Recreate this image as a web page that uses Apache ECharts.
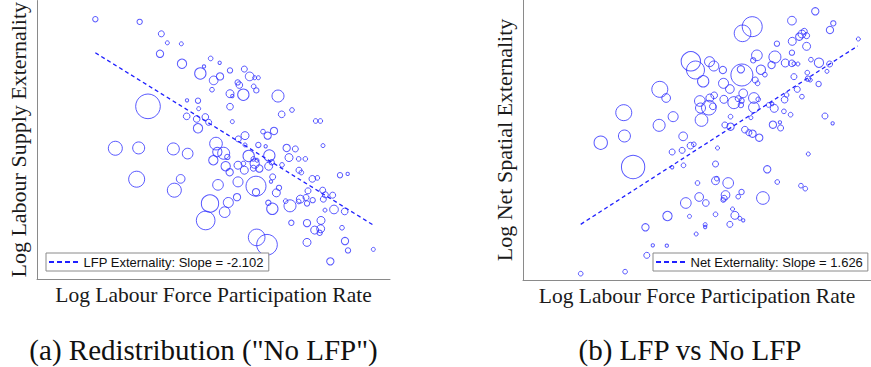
<!DOCTYPE html>
<html>
<head>
<meta charset="utf-8">
<script src="https://cdn.jsdelivr.net/npm/echarts@6/dist/echarts.min.js"></script>
<style>
html,body{margin:0;padding:0;background:#fff;}
#chart{width:871px;height:367px;}
</style>
</head>
<body>
<div id="chart"></div>
<script>
// ---- Data (arbitrary plot units; third value = bubble weight) ----
const leftPoints = [
[17.5,78.1,8],[30.8,77.3,8],[37.3,73.7,9],[39.1,71.0,6],[43.3,70.7,6],[36.9,67.7,11],[43.5,64.7,14],[52.1,66.3,7],
[54.8,65.0,5],[50.1,63.9,5],[49.0,61.8,17],[57.9,62.7,8],[62.2,63.1,9],[63.8,60.9,13],[54.9,60.9,11],[53.0,59.7,13],
[65.3,60.5,6],[66.4,60.5,6],[60.2,59.1,8],[60.7,58.3,10],[65.0,57.9,7],[52.5,56.9,7],[65.8,56.7,8],[57.9,55.7,12],
[61.9,55.4,17],[58.6,55.0,5],[72.3,55.0,18],[33.3,51.9,37],[45.0,53.7,5],[48.3,53.6,8],[57.9,51.8,10],[48.5,51.2,6],
[76.5,50.8,7],[73.4,49.5,10],[44.9,48.9,10],[47.9,48.1,10],[50.5,48.7,10],[51.5,47.1,9],[58.6,47.3,6],[83.6,47.5,7],
[85.0,47.5,7],[48.3,45.3,14],[67.8,44.3,7],[69.2,43.1,11],[71.1,44.5,11],[62.4,43.1,12],[60.4,42.1,9],[62.4,40.3,6],
[23.5,39.3,21],[30.5,39.4,18],[40.9,39.1,18],[45.2,37.7,16],[53.7,40.7,19],[54.1,38.2,14],[56.0,37.8,18],[57.1,36.7,8],
[52.9,35.7,14],[66.4,40.3,8],[68.6,39.9,5],[63.5,37.0,17],[69.7,37.1,17],[74.9,39.4,11],[77.5,39.1,9],[75.6,36.5,12],
[85.8,40.1,6],[78.5,36.1,7],[80.5,36.1,7],[64.9,36.1,7],[66.0,35.7,6],[61.9,34.7,7],[56.6,33.9,14],[57.8,32.1,11],
[60.3,34.2,12],[62.2,32.7,12],[65.3,34.7,14],[64.9,33.3,9],[66.7,33.2,11],[69.5,33.9,12],[70.4,35.1,8],[73.5,34.3,7],
[78.6,32.7,9],[79.3,32.0,7],[70.7,30.7,9],[70.2,29.3,5],[29.9,30.0,24],[43.1,30.1,13],[41.2,26.7,21],[54.3,28.3,16],
[60.3,29.2,15],[65.7,27.9,30],[65.7,26.1,11],[72.6,27.4,8],[71.8,25.9,12],[60.0,24.6,11],[90.9,31.2,8],[93.2,31.6,5],
[82.6,30.1,10],[84.1,30.4,7],[81.3,26.5,9],[85.7,26.7,9],[86.5,25.3,9],[88.7,25.2,9],[51.9,22.7,26],[57.4,23.0,15],
[56.3,20.1,16],[69.4,22.9,8],[70.6,21.1,17],[74.6,23.4,7],[75.9,22.0,18],[78.5,23.3,7],[79.0,24.0,12],[80.7,24.5,9],
[81.0,22.7,8],[82.7,23.7,8],[85.9,24.0,9],[86.4,20.7,6],[89.1,20.9,13],[92.3,20.3,10],[50.6,17.6,28],[76.3,16.9,8],
[81.0,16.8,11],[85.2,17.6,12],[83.3,14.7,12],[85.1,15.1,12],[84.8,13.9,8],[91.5,15.4,7],[65.9,12.5,25],[69.0,10.3,31],
[81.0,11.0,12],[92.4,11.4,11],[93.3,8.6,8],[100.9,8.9,6],[88.0,5.3,11]
];
const leftFit = [[17.5,68.0],[100.9,16.2]];
const leftLegend = 'LFP Externality: Slope = -2.102';

const rightPoints = [
[17.3,1.9,7],[30.6,2.5,7],[37.1,7.4,9],[38.9,10.4,5],[43.1,10.3,5],[36.7,15.8,11],[43.3,19.2,14],[49.9,19.1,6],
[54.6,16.6,6],[54.6,15.9,5],[51.9,13.8,6],[57.7,19.7,7],[62.0,16.7,9],[63.5,19.4,12],[62.8,21.3,6],[65.0,18.5,6],
[66.0,17.9,5],[48.8,23.1,16],[52.8,24.9,13],[54.8,23.1,10],[52.3,29.1,7],[57.7,29.8,12],[58.1,30.4,7],[61.5,29.1,16],
[60.7,25.5,13],[60.3,24.5,9],[60.0,24.0,7],[64.5,25.0,7],[65.5,26.4,8],[71.9,24.6,19],[73.2,33.2,11],[76.2,29.4,7],
[83.3,28.3,7],[84.6,27.4,7],[85.5,37.8,6],[57.7,34.8,9],[58.3,39.6,6],[33.0,33.9,35],[23.3,41.2,20],[30.4,43.2,18],
[30.2,50.2,24],[40.8,46.4,18],[41.0,57.2,24],[42.9,54.6,13],[45.0,49.0,15],[48.0,43.1,13],[44.7,38.4,9],[47.7,38.9,9],
[48.1,34.4,7],[44.7,33.8,5],[50.2,40.3,10],[51.2,40.7,7],[50.3,65.6,29],[51.7,63.0,27],[54.0,59.6,17],[55.9,65.5,15],
[57.2,64.2,15],[59.9,63.0,11],[60.1,59.0,15],[62.0,57.3,13],[57.3,55.4,10],[56.0,54.6,12],[53.0,53.7,16],[53.2,51.6,15],
[55.7,51.7,22],[56.9,52.1,10],[53.5,48.0,19],[60.2,54.2,12],[63.2,53.2,18],[64.5,54.4,9],[65.5,53.8,8],[65.3,52.5,8],
[62.2,49.0,7],[60.5,46.5,9],[62.2,46.0,11],[66.5,45.1,10],[67.7,44.2,9],[68.8,43.9,11],[70.8,42.7,11],[68.3,48.7,6],
[65.6,61.5,33],[65.3,63.2,11],[66.0,56.0,13],[69.6,60.0,9],[70.3,59.0,7],[69.2,54.6,16],[69.2,51.8,16],[70.5,54.2,7],
[71.3,63.1,14],[72.5,61.6,7],[70.1,67.4,16],[69.0,65.9,8],[65.8,74.0,25],[68.7,76.0,30],[76.1,70.9,8],[75.5,66.9,18],
[74.5,64.5,11],[73.6,52.5,7],[75.3,51.5,12],[74.9,46.6,11],[77.2,45.6,9],[77.0,47.3,5],[78.2,50.6,7],[80.2,49.6,7],
[78.6,65.1,12],[80.6,65.0,10],[81.2,64.9,6],[82.4,64.8,6],[80.6,68.2,8],[80.7,71.6,12],[80.6,77.8,13],[82.8,73.0,11],
[83.6,73.8,12],[84.3,74.6,9],[85.0,73.3,9],[85.0,70.1,12],[78.4,54.1,10],[79.0,55.5,7],[81.2,61.0,9],[82.2,57.2,9],
[83.6,55.0,7],[85.2,62.2,7],[85.4,60.4,8],[86.1,60.0,6],[86.3,66.1,7],[88.6,58.8,8],[88.7,65.2,14],[91.1,62.6,6],
[91.9,64.8,9],[92.0,75.0,11],[93.0,77.0,8],[87.6,80.6,11],[90.5,49.2,9],[92.8,47.0,5],[100.5,72.3,6],[74.7,52.8,5]
];
const rightFit = [[17.3,16.7],[100.3,70.2]];
const rightLegend = 'Net Externality: Slope = 1.626';

const xLabel = 'Log Labour Force Participation Rate';
const yLabels = ['Log Labour Supply Externality', 'Log Net Spatial Externality'];
const captions = ['(a) Redistribution ("No LFP")', '(b) LFP vs No LFP'];
const axisRanges = [{xMax:105.9, yMax:83.7}, {xMax:104.3, yMax:84.0}];

// ---- Styling ----
const SERIF = '"Liberation Serif", "Times New Roman", serif';
const SANS = '"Liberation Sans", Arial, sans-serif';
const bubbleColor = '#3030ff';
const lineColor = '#2020ff';
const axisColor = '#8a8a8a';
const dashIcon = 'path://M0,0h5v2h-5z M8,0h5v2h-5z M16,0h5v2h-5z M24,0h5v2h-5z';

const grids = [
  {left:37, top:0, width:353, height:279},
  {left:523, top:0, width:348, height:280}
];

function xAx(i){
  return {
    type:'value', gridIndex:i, min:0, max:axisRanges[i].xMax,
    axisLine:{show:true, onZero:false, lineStyle:{color:axisColor, width:1}},
    axisTick:{show:false}, axisLabel:{show:false}, splitLine:{show:false},
    name:xLabel, nameLocation:'middle', nameGap:5,
    nameTextStyle:{fontFamily:SERIF, fontSize:21.5, color:'#1a1a1a', verticalAlign:'top'}
  };
}
function yAx(i){
  return {
    type:'value', gridIndex:i, min:0, max:axisRanges[i].yMax,
    axisLine:{show:true, onZero:false, lineStyle:{color:axisColor, width:1}},
    axisTick:{show:false}, axisLabel:{show:false}, splitLine:{show:false},
    name:yLabels[i], nameLocation:'middle', nameGap:8, nameRotate:90,
    nameTextStyle:{fontFamily:SERIF, fontSize:22, color:'#1a1a1a'}
  };
}
function bubbles(i, pts){
  return {
    type:'scatter', xAxisIndex:i, yAxisIndex:i, data:pts, silent:true,
    symbol:'circle', symbolSize:function(v){ return v[2]*2/3; },
    itemStyle:{color:'rgba(0,0,0,0)', borderColor:bubbleColor, borderWidth:1},
    z:2
  };
}
function fit(i, name, pts){
  return {
    type:'line', name:name, xAxisIndex:i, yAxisIndex:i, data:pts, silent:true,
    symbol:'none', showSymbol:false,
    lineStyle:{color:lineColor, width:1.3, type:[4,3]},
    itemStyle:{color:lineColor},
    z:3
  };
}
function legend(name, left){
  return {
    data:[{name:name, icon:dashIcon}], left:left, top:253, orient:'horizontal', selectedMode:false,
    backgroundColor:'#fff', borderColor:'#8a8a8a', borderWidth:1, borderRadius:0,
    padding:[2,5,2,3], itemWidth:30, itemHeight:2, itemGap:0,
    itemStyle:{color:lineColor, borderWidth:0},
    textStyle:{fontFamily:SANS, fontSize:13, color:'#111', lineHeight:14}
  };
}

const chart = echarts.init(document.getElementById('chart'), null, {renderer:'svg'});
chart.setOption({
  animation:false,
  backgroundColor:'#fff',
  grid:grids,
  xAxis:[xAx(0), xAx(1)],
  yAxis:[yAx(0), yAx(1)],
  legend:[legend(leftLegend, 46), legend(rightLegend, 653)],
  series:[
    bubbles(0, leftPoints), fit(0, leftLegend, leftFit),
    bubbles(1, rightPoints), fit(1, rightLegend, rightFit)
  ],
  graphic:[
    {type:'text', x:203.5, y:350, style:{text:captions[0], fontFamily:SERIF, fontSize:29, fill:'#111', textAlign:'center', textVerticalAlign:'middle'}},
    {type:'text', x:690, y:350, style:{text:captions[1], fontFamily:SERIF, fontSize:29, fill:'#111', textAlign:'center', textVerticalAlign:'middle'}}
  ]
});
</script>
</body>
</html>
